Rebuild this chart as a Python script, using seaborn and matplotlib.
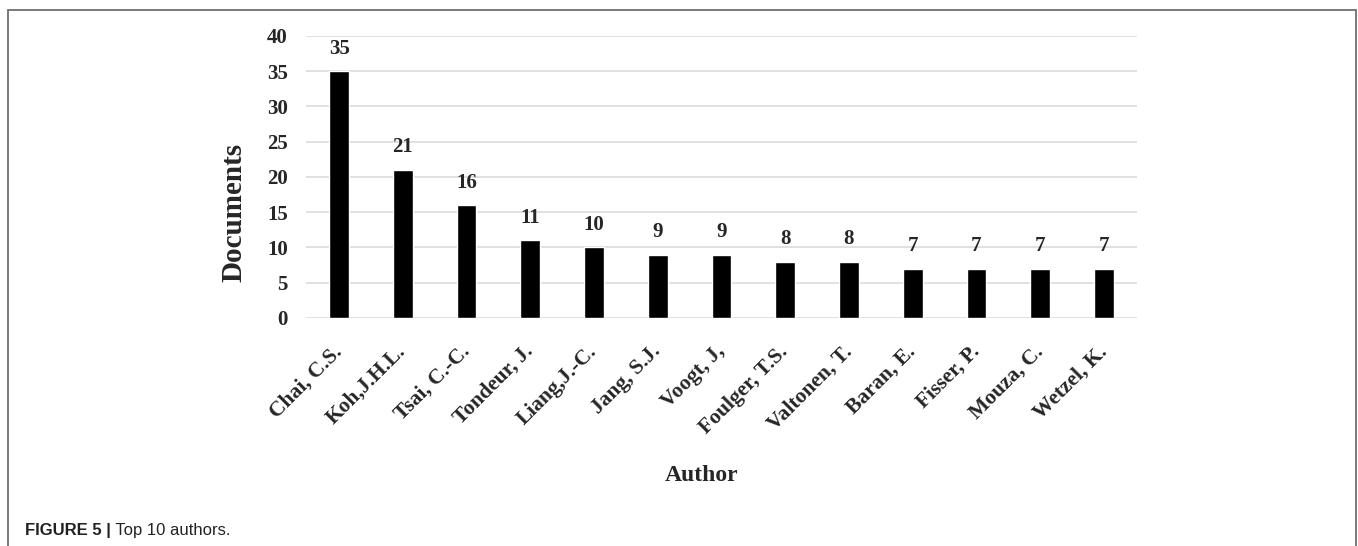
import matplotlib
matplotlib.use("Agg")
import matplotlib.pyplot as plt
import matplotlib.patches as mpatches
import seaborn as sns
import pandas as pd

# Top authors by number of documents
authors = ["Chai, C.S.", "Koh,J.H.L.", "Tsai, C.-C.", "Tondeur, J.", "Liang,J.-C.",
           "Jang, S.J.", "Voogt, J,", "Foulger, T.S.", "Valtonen, T.", "Baran, E.",
           "Fisser, P.", "Mouza, C.", "Wetzel, K."]
documents = [35, 21, 16, 11, 10, 9, 9, 8, 8, 7, 7, 7, 7]
y_ticks = [0, 5, 10, 15, 20, 25, 30, 35, 40]

df = pd.DataFrame({"Author": authors, "Documents": documents})

sns.set_style("white")
plt.rcParams["font.family"] = ["Liberation Serif", "DejaVu Serif"]

fig = plt.figure(figsize=(13.58, 5.46), dpi=100)
ax = fig.add_axes([0.2253, 0.4176, 0.612, 0.5165])

sns.barplot(data=df, x="Author", y="Documents", color="black",
            width=0.31, saturation=1, ax=ax)

ax.bar_label(ax.containers[0], padding=9, fontsize=15, fontweight="bold")

ax.set_ylim(0, 40)
ax.set_xlim(-0.52, len(authors) - 0.48)
ax.set_yticks(y_ticks)
ax.yaxis.grid(True, color="#dcdcdc", linewidth=1.2)
ax.set_axisbelow(True)
sns.despine(ax=ax, left=True, bottom=True)
ax.tick_params(axis="both", length=0)
ax.tick_params(axis="y", pad=13, labelsize=15)
ax.tick_params(axis="x", pad=22, labelsize=15.5)
for lbl in ax.get_yticklabels():
    lbl.set_fontweight("bold")
for lbl in ax.get_xticklabels():
    lbl.set_fontweight("bold")
    lbl.set_rotation(45)
    lbl.set_ha("right")
    lbl.set_va("center")
    lbl.set_rotation_mode("anchor")

ax.set_ylabel("Documents", fontsize=21, fontweight="bold")
ax.yaxis.set_label_coords(-0.0866, 0.376)
ax.yaxis.label.set_va("center")
ax.yaxis.label.set_ha("center")
ax.set_xlabel("Author", fontsize=17, fontweight="bold")
ax.xaxis.set_label_coords(0.4765, -0.557)
ax.xaxis.label.set_va("center")

# frame around the figure panel
frame = mpatches.Rectangle((8 / 1358, -0.02), 1348 / 1358, (536 / 546) + 0.02,
                           transform=fig.transFigure, fill=False,
                           edgecolor="#6e6e6e", linewidth=1.3)
fig.patches.append(frame)

# caption
cap = fig.text(25 / 1358, (546 - 535) / 546, "FIGURE 5 |", fontsize=12,
               fontweight="bold", family=["Liberation Sans", "DejaVu Sans"],
               color="#222222", va="baseline")
ax.annotate(" Top 10 authors.", xy=(1, 0), xycoords=cap, va="bottom",
            fontsize=12, family=["Liberation Sans", "DejaVu Sans"],
            color="#222222", annotation_clip=False)

fig.savefig("out.png", dpi=100)
